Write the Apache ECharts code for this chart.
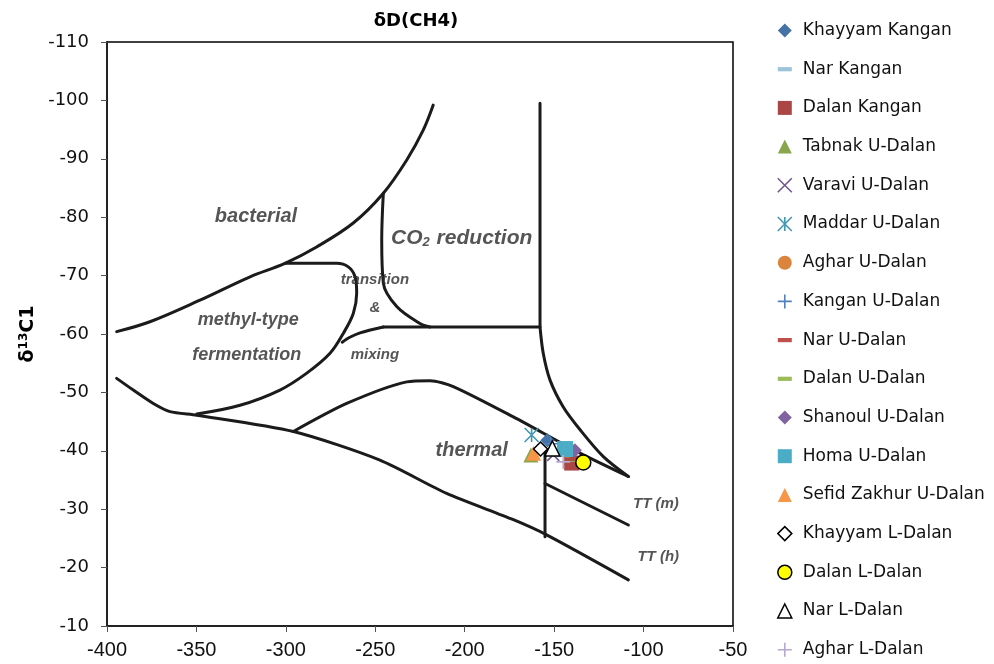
<!DOCTYPE html>
<html>
<head>
<meta charset="utf-8">
<title>δD(CH4) vs δ13C1</title>
<script src="https://cdn.jsdelivr.net/npm/echarts@6/dist/echarts.min.js"></script>
<style>
  html, body { margin: 0; padding: 0; background: #fff; }
  #chart { width: 994px; height: 664px; }
</style>
</head>
<body>
<div id="chart"></div>
<script>
// ---- Axis ticks ----
const xTicks = [-400, -350, -300, -250, -200, -150, -100, -50];
const yTicks = [-110, -100, -90, -80, -70, -60, -50, -40, -30, -20, -10];

// ---- Genetic classification field boundaries (δD, δ13C) ----
const bacterialUpper = [[-394.6,-60.4],[-376,-62.1],[-348,-65.8],[-320,-69.8],[-300.5,-72.1],[-282.8,-74.9],[-262.3,-79.0],[-245.5,-84.1],[-232.4,-89.8],[-223.2,-94.9],[-217.6,-99.2]];
const methylLoop = [[-300.5,-72.1],[-271.6,-72.1],[-265.1,-71.5],[-261.3,-69.8],[-260.4,-67.0],[-262.3,-63.5],[-267.9,-60.1],[-275.3,-56.7],[-288.3,-53.3],[-303.3,-50.4],[-325.6,-47.8],[-349.8,-46.3]];
const lowerBoundary = [[-394.6,-52.4],[-385.3,-50.4],[-374.1,-48.1],[-364.8,-46.7],[-349.8,-46.1],[-295.8,-43.3],[-247.4,-38.4],[-210.1,-32.7],[-172.8,-28.2],[-154.2,-25.6],[-108.5,-17.9]];
const thermalUpper = [[-295.8,-43.3],[-266,-48.1],[-232.4,-51.8],[-219.4,-52.0],[-206.4,-51.0],[-172.8,-45.8],[-135.5,-39.6],[-108.5,-35.6]];
const co2Box = [[-157.9,-99.5],[-157.9,-61.2],[-245.5,-61.2]];
const mixingUpper = [[-245.5,-61.2],[-258.5,-60.2],[-264.5,-59.4],[-268.5,-58.6]];
const co2Left = [[-245.5,-84.1],[-246.4,-76.1],[-245.5,-68.7],[-238.0,-64.7],[-225.0,-61.8],[-219.4,-61.2]];
const thermalRight = [[-157.9,-61.2],[-156.1,-56.7],[-152.3,-52.1],[-144.9,-47.5],[-135.5,-43.6],[-122.5,-39.0],[-108.5,-35.6]];
const ttDivider = [[-155.1,-40.1],[-155.1,-25.3]];
const ttMature = [[-155.1,-34.4],[-108.5,-27.3]];

// ---- Field names ----
const fieldNames = ['bacterial', 'CO2 reduction', 'transition', '&', 'mixing', 'methyl-type', 'fermentation', 'thermal', 'TT (m)', 'TT (h)'];
const fieldCoords = [[-316.7,-80.1],[-201.7,-76.4],[-250.2,-69.2],[-250.2,-64.4],[-250.2,-56.4],[-321.0,-62.4],[-321.9,-56.4],[-196.1,-40.1],[-93.1,-31.0],[-91.8,-21.9]];

// ---- Samples ----
const sampleNames = ['Khayyam Kangan','Nar Kangan','Dalan Kangan','Tabnak U-Dalan','Varavi U-Dalan','Maddar U-Dalan','Aghar U-Dalan','Kangan U-Dalan','Nar U-Dalan','Dalan U-Dalan','Shanoul U-Dalan','Homa U-Dalan','Sefid Zakhur U-Dalan','Khayyam L-Dalan','Dalan L-Dalan','Nar L-Dalan','Aghar L-Dalan'];
const khayyamKangan = [[-153.8,-41.8]];
const narKangan = [[-144.0,-40.6]];
const dalanKangan = [[-140.2,-37.9]];
const tabnakUDalan = [[-163.0,-39.3]];
const varaviUDalan = [[-150.5,-39.3]];
const maddarUDalan = [[-162.6,-42.7]];
const agharUDalan = [[-142.5,-40.0]];
const kanganUDalan = [[-152.0,-41.2]];
const narUDalan = [[-141.0,-39.0]];
const dalanUDalan = [[-141.0,-38.2]];
const shanoulUDalan = [[-138.4,-40.1]];
const homaUDalan = [[-143.9,-40.3]];
const sefidZakhurUDalan = [[-161.5,-39.6]];
const khayyamLDalan = [[-157.6,-40.3]];
const dalanLDalan = [[-133.7,-38.0]];
const narLDalan = [[-151.0,-40.4]];
const agharLDalan = [[-144.9,-38.1]];

const sampleData = [khayyamKangan, narKangan, dalanKangan, tabnakUDalan, varaviUDalan, maddarUDalan, agharUDalan, kanganUDalan, narUDalan, dalanUDalan, shanoulUDalan, homaUDalan, sefidZakhurUDalan, khayyamLDalan, dalanLDalan, narLDalan, agharLDalan];

// marker look for each sample series
const CROSS = 'path://M0,0L10,10M10,0L0,10';
const STAR = 'path://M0,0L10,10M10,0L0,10M5,0L5,10';
const PLUS = 'path://M5,0L5,10M0,5L10,5';
const DASH = 'path://M0,0L10,0L10,3L0,3Z';
const markerStyles = [
  { symbol: 'diamond', size: 14, fill: '#4572A7' },
  { symbol: DASH, size: [10, 3], fill: '#9CC3DA', keep: true },
  { symbol: 'rect', size: 15, fill: '#AA4643' },
  { symbol: 'triangle', size: 15, fill: '#89A54E' },
  { symbol: CROSS, size: 12, stroke: '#71588F' },
  { symbol: STAR, size: 14, stroke: '#4198AF' },
  { symbol: 'circle', size: 14, fill: '#DB843D' },
  { symbol: PLUS, size: 14, stroke: '#4F81BD' },
  { symbol: DASH, size: [10, 3], fill: '#C0504D', keep: true },
  { symbol: DASH, size: [12, 3], fill: '#9BBB59', keep: true },
  { symbol: 'diamond', size: 14, fill: '#8064A2' },
  { symbol: 'rect', size: 16, fill: '#4BACC6' },
  { symbol: 'triangle', size: 15, fill: '#F79646' },
  { symbol: 'diamond', size: 14, fill: '#FFFFFF', border: '#000000' },
  { symbol: 'circle', size: 15, fill: '#FFFF00', border: '#000000' },
  { symbol: 'triangle', size: 15, fill: '#FFFFFF', border: '#000000' },
  { symbol: PLUS, size: 14, stroke: '#B7A9D0' }
];

const boundaryLine = (data, smooth) => ({
  type: 'line',
  data: data,
  smooth: smooth,
  showSymbol: false,
  symbol: 'none',
  silent: true,
  z: 1,
  lineStyle: { color: '#1b1b1b', width: 3, cap: 'round', join: 'round' }
});

const fieldFont = {
  'bacterial': 20, 'CO2 reduction': 21, 'transition': 15, '&': 15, 'mixing': 15,
  'methyl-type': 18, 'fermentation': 18, 'thermal': 20, 'TT (m)': 15, 'TT (h)': 15
};
const fieldRich = (size) => ({ fontSize: size, fontStyle: 'italic', fontWeight: 'bold', fontFamily: 'Liberation Sans', color: '#2b2b2b' });

const series = [
  boundaryLine(bacterialUpper, 0.35),
  boundaryLine(methylLoop, 0.35),
  boundaryLine(lowerBoundary, 0.25),
  boundaryLine(thermalUpper, 0.25),
  boundaryLine(co2Box, false),
  boundaryLine(mixingUpper, 0.3),
  boundaryLine(co2Left, 0.35),
  boundaryLine(thermalRight, 0.3),
  boundaryLine(ttDivider, false),
  boundaryLine(ttMature, false),
  {
    type: 'scatter',
    silent: true,
    symbolSize: 0,
    z: 2,
    data: fieldNames.map((n, i) => ({ name: n, value: fieldCoords[i] })),
    label: {
      show: true,
      position: 'inside',
      formatter: p => p.name === 'CO2 reduction' ? '{t21|CO}{s|2}{t21| reduction}' : '{t' + fieldFont[p.name] + '|' + p.name + '}',
      rich: {
        t15: fieldRich(15),
        t18: fieldRich(18),
        t20: fieldRich(20),
        t21: fieldRich(21),
        s: Object.assign(fieldRich(13), { verticalAlign: 'bottom', padding: [8, 1, 0, 0] })
      }
    }
  }
];

sampleNames.forEach((name, i) => {
  const m = markerStyles[i];
  const stroked = !!m.stroke;
  series.push({
    name: name,
    type: 'scatter',
    data: sampleData[i],
    symbol: m.symbol,
    symbolSize: m.size,
    symbolKeepAspect: !!m.keep,
    z: 3 + i * 0.01,
    itemStyle: stroked
      ? { color: 'rgba(0,0,0,0)', borderColor: m.stroke, borderWidth: 1.6, opacity: 1 }
      : { color: m.fill, borderColor: m.border || m.fill, borderWidth: m.border ? 1.5 : 0, opacity: 1 }
  });
});

const chart = echarts.init(document.getElementById('chart'), null, { renderer: 'canvas' });
chart.setOption({
  animation: false,
  backgroundColor: '#ffffff',
  title: {
    text: 'δD(CH4)',
    left: 411,
    top: 7,
    textAlign: 'center',
    textStyle: { fontFamily: 'DejaVu Sans', fontWeight: 'bold', fontSize: 18, color: '#000' }
  },
  legend: {
    data: sampleNames,
    orient: 'vertical',
    left: 777,
    top: 22,
    height: 660,
    padding: 0,
    itemWidth: 14,
    itemHeight: 14,
    itemGap: 21.7,
    textStyle: { fontFamily: 'DejaVu Sans', fontSize: 17, color: '#111', padding: [0, 0, 0, 6] },
    itemStyle: { borderWidth: 'inherit' }
  },
  grid: {
    left: 107, right: 261, top: 42, bottom: 38,
    show: true, borderColor: '#000', borderWidth: 1.5, backgroundColor: '#fff'
  },
  xAxis: {
    type: 'value',
    min: xTicks[0],
    max: xTicks[xTicks.length - 1],
    interval: 50,
    splitLine: { show: false },
    axisLine: { show: true, onZero: false, lineStyle: { color: '#222', width: 2 } },
    axisTick: { show: true, inside: false, length: 6, lineStyle: { color: '#555' } },
    axisLabel: { margin: 14, fontFamily: 'Liberation Sans', fontSize: 20, color: '#111' }
  },
  yAxis: {
    type: 'value',
    inverse: true,
    min: yTicks[0],
    max: yTicks[yTicks.length - 1],
    interval: 10,
    name: '{d|δ}{sup|13}{d|C1}',
    nameLocation: 'middle',
    nameRotate: 90,
    nameGap: 66,
    nameTextStyle: {
      rich: {
        d: { fontFamily: 'DejaVu Sans', fontWeight: 'bold', fontSize: 19, color: '#000' },
        sup: { fontFamily: 'DejaVu Sans', fontWeight: 'bold', fontSize: 12, color: '#000', verticalAlign: 'top', padding: [0, 0, 8, 0] }
      }
    },
    splitLine: { show: false },
    axisLine: { show: true, onZero: false, lineStyle: { color: '#222', width: 2 } },
    axisTick: { show: true, inside: false, length: 6, lineStyle: { color: '#555' } },
    axisLabel: { margin: 18, fontFamily: 'DejaVu Sans', fontSize: 18, color: '#111' }
  },
  series: series
});
</script>
</body>
</html>
